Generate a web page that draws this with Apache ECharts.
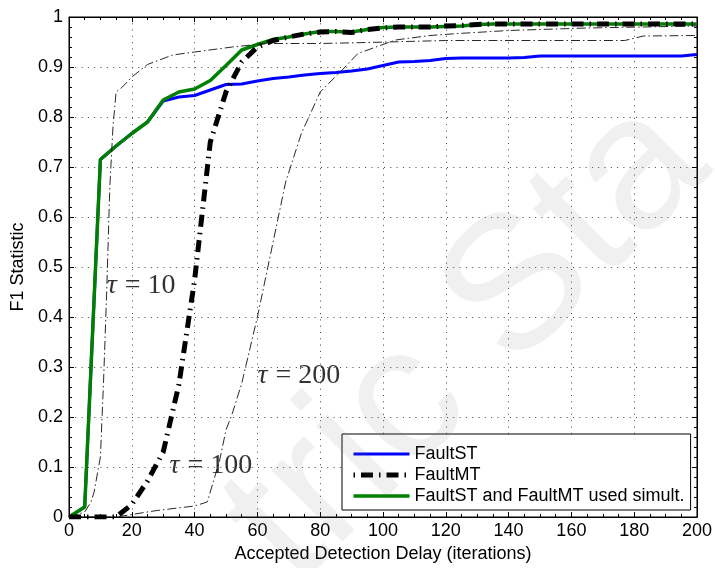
<!DOCTYPE html>
<html>
<head>
<meta charset="utf-8">
<script src="https://cdn.jsdelivr.net/npm/echarts@6/dist/echarts.min.js"></script>
<style>
  html, body { margin: 0; padding: 0; background: #fff; }
  #chart { width: 715px; height: 568px; }
</style>
</head>
<body>
<div id="chart"></div>
<script>
// Accepted detection delay (iterations) at which each F1 value is evaluated
const delays = [0, 5, 10, 15, 20, 25, 30, 35, 40, 45, 50, 55, 60, 65, 70, 75, 80, 85, 90, 95, 100,
  105, 110, 115, 120, 125, 130, 135, 140, 145, 150, 155, 160, 165, 170, 175, 180, 185, 190, 195, 200];

// F1 statistic, single-threshold detector
const faultST = [0, 0.02, 0.715, 0.742, 0.767, 0.79, 0.832, 0.84, 0.843, 0.854, 0.865, 0.866, 0.872, 0.877, 0.880, 0.884, 0.887, 0.889, 0.892, 0.896, 0.903,
  0.910, 0.911, 0.913, 0.917, 0.918, 0.918, 0.918, 0.918, 0.919, 0.922, 0.922, 0.922, 0.922, 0.922, 0.922, 0.922, 0.922, 0.922, 0.922, 0.925];

// F1 statistic, multi-threshold detector (tau = 100)
const faultMT = [0, 0, 0, 0, 0.025, 0.072, 0.13, 0.265, 0.474, 0.75, 0.85, 0.91, 0.94, 0.953, 0.960, 0.966, 0.970, 0.971, 0.969, 0.975, 0.978,
  0.980, 0.980, 0.980, 0.982, 0.983, 0.985, 0.986, 0.986, 0.986, 0.986, 0.986, 0.986, 0.986, 0.986, 0.986, 0.986, 0.986, 0.986, 0.986, 0.986];

// F1 statistic, both detectors combined
const combined = [0, 0.02, 0.715, 0.742, 0.767, 0.79, 0.834, 0.85, 0.856, 0.873, 0.903, 0.934, 0.945, 0.955, 0.960, 0.966, 0.971, 0.971, 0.970, 0.975, 0.979,
  0.980, 0.980, 0.980, 0.981, 0.982, 0.985, 0.986, 0.986, 0.986, 0.986, 0.986, 0.986, 0.986, 0.986, 0.986, 0.986, 0.986, 0.986, 0.986, 0.986];

// FaultMT with a short window, tau = 10
const tau10Delay = [0, 5, 7, 8, 10, 11, 12, 13, 14, 15, 17, 20, 25, 33, 40, 52, 63, 80, 95, 120, 177, 183, 200];
const tau10F1 = [0, 0.01, 0.03, 0.05, 0.12, 0.27, 0.45, 0.66, 0.78, 0.85, 0.86, 0.88, 0.905, 0.924, 0.93, 0.94, 0.947, 0.947, 0.949, 0.953, 0.953, 0.962, 0.963];

// FaultMT with a long window, tau = 200
const tau200Delay = [0, 15, 20, 28, 40, 44, 45, 48, 50, 52, 55, 60, 65, 69, 74, 80, 87, 92, 100, 104, 115, 124, 140, 165, 200];
const tau200F1 = [0, 0, 0.005, 0.013, 0.022, 0.03, 0.05, 0.114, 0.174, 0.207, 0.267, 0.40, 0.55, 0.67, 0.767, 0.85, 0.894, 0.927, 0.945, 0.954, 0.963, 0.967, 0.973, 0.978, 0.982];

// Window annotations: text and the data point the text starts from
const tauNotes = [
  { value: '10', at: [12, 0.462] },
  { value: '100', at: [32, 0.102] },
  { value: '200', at: [60, 0.282] }
];

const seriesNames = ['FaultST', 'FaultMT', 'FaultST and FaultMT used simult.'];
const stampText = 'tric Sta';

const xTicks = { min: 0, max: 200, step: 20 };
const yTicks = { min: 0, max: 1, step: 0.1 };

const pairs = (xs, ys) => xs.map((x, i) => [x, ys[i]]);

const sans = 'Liberation Sans, Arial, Helvetica, sans-serif';
const serif = 'Liberation Serif, Times New Roman, serif';

const blueStyle = { color: '#0000ff', width: 3 };
const greenStyle = { color: '#008000', width: 3.5 };
const mtStyle = { color: '#000', width: 5, type: [12, 6, 1.5, 6], cap: 'butt' };
const thinStyle = { color: '#111', width: 0.9, type: [9, 3, 1.5, 3] };

const gridLine = { show: true, lineStyle: { color: '#444', width: 1, type: [1, 5.3] } };
const tick = { show: true, inside: true, length: 5, lineStyle: { color: '#000', width: 1 } };
const line = { show: true, onZero: false, lineStyle: { color: '#000', width: 1 } };

const chart = echarts.init(document.getElementById('chart'), null, { renderer: 'canvas' });

chart.setOption({
  animation: false,
  backgroundColor: '#fff',
  textStyle: { fontFamily: sans },
  grid: { left: 69, right: 16, top: 17, bottom: 51, show: true, borderColor: '#000', borderWidth: 1, backgroundColor: '#fff' },
  legend: {
    data: [
      { name: seriesNames[0], lineStyle: { width: 3 } },
      { name: seriesNames[1], lineStyle: { width: 5, type: [12, 6, 1.5, 6], dashOffset: 18 } },
      { name: seriesNames[2], lineStyle: { width: 3.5 } }
    ],
    orient: 'vertical',
    left: 342, top: 434,
    padding: [11, 6, 5, 9],
    itemGap: 3,
    itemWidth: 56,
    itemHeight: 18,
    backgroundColor: '#fff',
    borderColor: '#000',
    borderWidth: 1,
    borderRadius: 0,
    itemStyle: { opacity: 0 },
    lineStyle: { width: 'inherit' },
    textStyle: { fontSize: 18, color: '#000', fontFamily: sans },
    selectedMode: false
  },
  graphic: [{
    type: 'text', z: 100, silent: true,
    x: 468, y: 342, rotation: Math.PI / 4,
    style: {
      text: stampText, fontFamily: sans, fontSize: 190,
      fill: 'rgba(120,120,120,0.11)', textAlign: 'center', textVerticalAlign: 'middle'
    }
  }],
  xAxis: [
    {
      type: 'value', min: xTicks.min, max: xTicks.max, interval: xTicks.step,
      name: 'Accepted Detection Delay (iterations)', nameLocation: 'middle', nameGap: 24,
      nameTextStyle: { fontSize: 18, color: '#000', fontFamily: sans },
      axisLine: line, axisTick: tick,
      minorTick: { show: true, splitNumber: 4, length: 3, lineStyle: { color: '#000' } },
      axisLabel: { fontSize: 18, color: '#000', margin: 5, fontFamily: sans },
      splitLine: gridLine
    },
    {
      type: 'value', position: 'top', min: xTicks.min, max: xTicks.max, interval: xTicks.step,
      axisLine: line, axisTick: tick,
      minorTick: { show: true, splitNumber: 4, length: 3, lineStyle: { color: '#000' } },
      axisLabel: { show: false }, splitLine: { show: false }
    }
  ],
  yAxis: [
    {
      type: 'value', min: yTicks.min, max: yTicks.max, interval: yTicks.step,
      name: 'F1 Statistic', nameLocation: 'middle', nameGap: 37,
      nameTextStyle: { fontSize: 18, color: '#000', fontFamily: sans },
      axisLine: line, axisTick: tick,
      minorTick: { show: true, splitNumber: 5, length: 3, lineStyle: { color: '#000' } },
      axisLabel: { fontSize: 18, color: '#000', margin: 6, fontFamily: sans },
      splitLine: gridLine
    },
    {
      type: 'value', position: 'right', min: yTicks.min, max: yTicks.max, interval: yTicks.step,
      axisLine: line, axisTick: tick,
      minorTick: { show: true, splitNumber: 5, length: 3, lineStyle: { color: '#000' } },
      axisLabel: { show: false }, splitLine: { show: false }
    }
  ],
  series: [
    {
      name: seriesNames[0], type: 'line', xAxisIndex: 0, yAxisIndex: 0,
      data: pairs(delays, faultST), showSymbol: false, symbol: 'none', z: 3,
      lineStyle: blueStyle, itemStyle: { color: blueStyle.color }
    },
    {
      name: seriesNames[2], type: 'line', xAxisIndex: 0, yAxisIndex: 0,
      data: pairs(delays, combined), showSymbol: false, symbol: 'none', z: 4,
      lineStyle: greenStyle, itemStyle: { color: greenStyle.color }
    },
    {
      name: seriesNames[1], type: 'line', xAxisIndex: 0, yAxisIndex: 0,
      data: pairs(delays, faultMT), showSymbol: false, symbol: 'none', z: 5,
      lineStyle: mtStyle, itemStyle: { color: '#000' }
    },
    {
      name: 'tau10', type: 'line', xAxisIndex: 0, yAxisIndex: 0,
      data: pairs(tau10Delay, tau10F1), showSymbol: false, symbol: 'none', z: 6,
      lineStyle: thinStyle
    },
    {
      name: 'tau200', type: 'line', xAxisIndex: 0, yAxisIndex: 0,
      data: pairs(tau200Delay, tau200F1), showSymbol: false, symbol: 'none', z: 6,
      lineStyle: thinStyle
    },
    {
      name: 'tauLabels', type: 'scatter', xAxisIndex: 0, yAxisIndex: 0, z: 7,
      symbolSize: 0, silent: true,
      data: tauNotes.map(n => ({ value: n.at, note: n.value })),
      label: {
        show: true, position: 'right', distance: 0,
        formatter: p => '{t|τ}{e|=}{v|' + p.data.note + '}',
        rich: {
          t: { fontFamily: serif, fontStyle: 'italic', fontSize: 28, color: '#000' },
          e: { fontFamily: serif, fontSize: 28, color: '#000', padding: [0, 7, 0, 8] },
          v: { fontFamily: serif, fontSize: 28, color: '#000' }
        }
      }
    }
  ]
});
</script>
</body>
</html>
